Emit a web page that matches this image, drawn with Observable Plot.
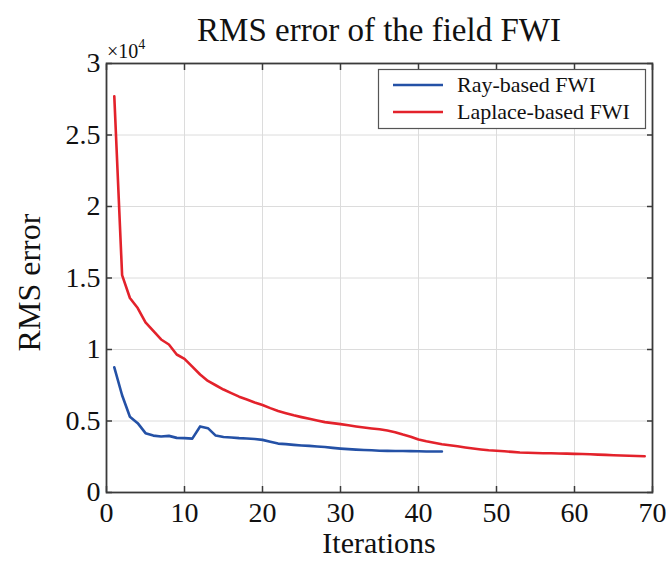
<!DOCTYPE html>
<html>
<head>
<meta charset="utf-8">
<script src="https://cdn.jsdelivr.net/npm/d3@7"></script>
<script src="https://cdn.jsdelivr.net/npm/@observablehq/plot@0.6"></script>
<style>
  html, body { margin: 0; padding: 0; background: #fff; }
  #chart svg { display: block; }
</style>
</head>
<body>
<div id="chart"></div>
<script>
// ---- data ----
const titleText = "RMS error of the field FWI";
const xLabel = "Iterations";
const yLabel = "RMS error";
const seriesNames = ["Ray-based FWI", "Laplace-based FWI"];
const seriesColors = ["#2451a6", "#e3222b"];
const xTicks = [0, 10, 20, 30, 40, 50, 60, 70];
const yTicks = [0, 5000, 10000, 15000, 20000, 25000, 30000];

const rayIter = d3.range(1, 44);
const rayRms = [8750, 6800, 5300, 4850, 4150, 3980, 3920, 3960, 3820, 3800,
                3770, 4620, 4500, 3980, 3880, 3850, 3800, 3780, 3740, 3680,
                3550, 3420, 3380, 3330, 3290, 3260, 3220, 3180, 3120, 3070,
                3030, 3000, 2970, 2950, 2920, 2910, 2900, 2900, 2890, 2880,
                2870, 2870, 2870];

const lapIter = d3.range(1, 70);
const lapRms = [27700, 15200, 13600, 12900, 11900, 11300, 10700, 10350, 9650, 9350,
                8800, 8250, 7800, 7500, 7200, 6950, 6700, 6500, 6300, 6120,
                5900, 5700, 5550, 5400, 5270, 5150, 5030, 4920, 4850, 4780,
                4700, 4620, 4550, 4480, 4420, 4330, 4220, 4050, 3900, 3700,
                3580, 3480, 3380, 3300, 3230, 3150, 3080, 3010, 2950, 2920,
                2880, 2840, 2800, 2780, 2760, 2750, 2740, 2730, 2720, 2700,
                2690, 2670, 2650, 2630, 2610, 2590, 2570, 2550, 2540];

const data = [
  ...rayIter.map((x, i) => ({x, y: rayRms[i], s: seriesNames[0]})),
  ...lapIter.map((x, i) => ({x, y: lapRms[i], s: seriesNames[1]}))
];

const W = 666, H = 563;
const mL = 106, mR = 14, mT = 63, mB = 71;
const font = "'Liberation Serif', 'Times New Roman', Times, serif";
const axisCol = "#3a3a3a";

const chart = Plot.plot({
  width: W, height: H,
  marginLeft: mL, marginRight: mR, marginTop: mT, marginBottom: mB,
  style: {fontFamily: font, background: "#fff"},
  x: {domain: [0, 70]},
  y: {domain: [0, 30000]},
  color: {domain: seriesNames, range: seriesColors},
  marks: [
    Plot.gridX(xTicks.slice(1, -1), {stroke: "#dcdcdc", strokeOpacity: 1, strokeWidth: 1}),
    Plot.gridY(yTicks.slice(1, -1), {stroke: "#dcdcdc", strokeOpacity: 1, strokeWidth: 1}),
    Plot.line(data, {x: "x", y: "y", z: "s", stroke: "s", strokeWidth: 2.6}),
    // inward ticks
    Plot.axisX(xTicks, {anchor: "bottom", tickSize: -6, stroke: axisCol, strokeWidth: 1.5, tickFormat: () => "", label: null}),
    Plot.axisX(xTicks, {anchor: "top", tickSize: -6, stroke: axisCol, strokeWidth: 1.5, tickFormat: () => "", label: null}),
    Plot.axisY(yTicks, {anchor: "left", tickSize: -6, stroke: axisCol, strokeWidth: 1.5, tickFormat: () => "", label: null}),
    Plot.axisY(yTicks, {anchor: "right", tickSize: -6, stroke: axisCol, strokeWidth: 1.5, tickFormat: () => "", label: null}),
    // tick labels
    Plot.axisX(xTicks, {anchor: "bottom", tickSize: 0, tickPadding: 10, fontSize: 28, fill: "#111", label: null}),
    Plot.axisY(yTicks, {anchor: "left", tickSize: 0, tickPadding: 6, fontSize: 28, fill: "#111", label: null,
                        tickFormat: d => d3.format("~g")(d / 1e4)}),
    Plot.frame({stroke: axisCol, strokeWidth: 1.8})
  ]
});

document.getElementById("chart").appendChild(chart);

const svg = d3.select(chart);
const cx = mL + (W - mL - mR) / 2;

svg.append("text").attr("x", cx).attr("y", 41)
  .attr("text-anchor", "middle").attr("font-family", font).attr("font-size", 33)
  .attr("fill", "#111").text(titleText);

svg.append("text").attr("x", cx).attr("y", 553)
  .attr("text-anchor", "middle").attr("font-family", font).attr("font-size", 30)
  .attr("fill", "#111").text(xLabel);

svg.append("text").attr("transform", `translate(40, ${mT + (H - mT - mB) / 2 + 5}) rotate(-90)`)
  .attr("text-anchor", "middle").attr("font-family", font).attr("font-size", 32)
  .attr("fill", "#111").text(yLabel);

const mult = svg.append("text").attr("x", 107).attr("y", 58)
  .attr("text-anchor", "start")
  .attr("font-family", font).attr("font-size", 20).attr("fill", "#111");
mult.append("tspan").text("×10");
mult.append("tspan").attr("dy", -9).attr("font-size", 14).text("4");

// legend
const lg = svg.append("g");
lg.append("rect").attr("x", 378.5).attr("y", 69.5).attr("width", 267).attr("height", 59)
  .attr("fill", "#fff").attr("stroke", "#555").attr("stroke-width", 1.2);
seriesNames.forEach((name, i) => {
  const y = 85 + i * 27;
  lg.append("line").attr("x1", 393).attr("x2", 443).attr("y1", y).attr("y2", y)
    .attr("stroke", seriesColors[i]).attr("stroke-width", 2.6);
  lg.append("text").attr("x", 457).attr("y", y + 7).attr("text-anchor", "start")
    .attr("font-family", font).attr("font-size", 22).attr("fill", "#111").text(name);
});
</script>
</body>
</html>
